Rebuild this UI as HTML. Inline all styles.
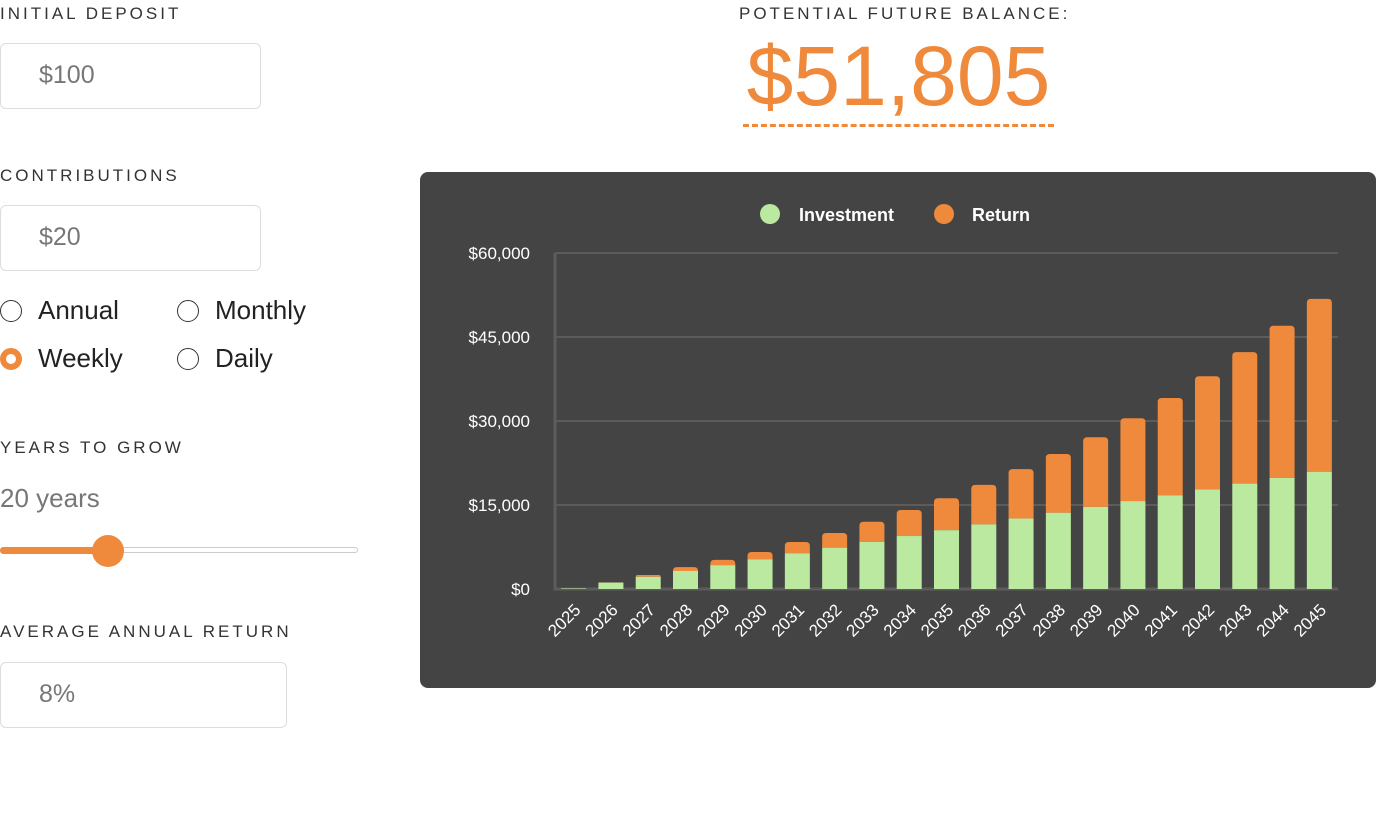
<!DOCTYPE html>
<html><head><meta charset="utf-8"><style>
body{margin:0;width:1376px;height:839px;background:#fff;font-family:"Liberation Sans",sans-serif;position:relative;overflow:hidden}
.lbl{position:absolute;left:0;font-size:17px;letter-spacing:3px;color:#333}
.inp{position:absolute;left:0;width:261px;height:66px;border:1px solid #ddd;border-radius:6px;box-sizing:border-box;font-size:25px;color:#777;padding:17px 0 0 38px}
.rad{position:absolute;font-size:26px;color:#222}
.rad i{position:absolute;left:-38px;top:5px;width:22px;height:22px;border:1.5px solid #333;border-radius:50%;box-sizing:border-box}
</style></head><body>
<div class="lbl" style="top:4px">INITIAL DEPOSIT</div>
<div class="inp" style="top:43px">$100</div>
<div class="lbl" style="top:166px">CONTRIBUTIONS</div>
<div class="inp" style="top:205px">$20</div>
<div class="rad" style="left:38px;top:295px"><i style="left:-38px"></i>Annual</div>
<div class="rad" style="left:215px;top:295px"><i style="left:-38px"></i>Monthly</div>
<div class="rad" style="left:38px;top:343px"><i style="left:-38px;border:6px solid #ef8a3c;background:#fff"></i>Weekly</div>
<div class="rad" style="left:215px;top:343px"><i style="left:-38px"></i>Daily</div>
<div class="lbl" style="top:438px">YEARS TO GROW</div>
<div style="position:absolute;left:0;top:483px;font-size:26px;color:#777">20 years</div>
<div style="position:absolute;left:0;top:547px;width:358px;height:6px;border:1px solid #ccc;border-radius:4px;box-sizing:border-box"></div>
<div style="position:absolute;left:0;top:547px;width:108px;height:7px;background:#ef8a3c;border-radius:4px"></div>
<div style="position:absolute;left:92px;top:535px;width:32px;height:32px;background:#ef8a3c;border-radius:50%"></div>
<div class="lbl" style="top:622px">AVERAGE ANNUAL RETURN</div>
<div class="inp" style="top:662px;width:287px">8%</div>
<div class="lbl" style="left:739px;top:4px">POTENTIAL FUTURE BALANCE:</div>
<div style="position:absolute;left:743px;top:28px;width:311px;font-size:84px;color:#ef8a3c;text-align:center;line-height:96px;border-bottom:3px dashed #ef8a3c">$51,805</div>
<svg id="chart" style="position:absolute;left:420px;top:172px" width="956" height="516"></svg>
<script>
const years=[2025,2026,2027,2028,2029,2030,2031,2032,2033,2034,2035,2036,2037,2038,2039,2040,2041,2042,2043,2044,2045];
const investment=[100,1140,2180,3220,4260,5300,6340,7380,8420,9460,10500,11540,12580,13620,14660,15700,16740,17780,18820,19860,20900];
const totals=[100,1180,2500,3900,5200,6600,8400,10000,12000,14100,16200,18600,21400,24100,27100,30500,34100,38000,42300,47000,51805];
const yTicks=[0,15000,30000,45000,60000];
const NS='http://www.w3.org/2000/svg';
const svg=document.getElementById('chart');
function mk(t,a,p){const e=document.createElementNS(NS,t);for(const k in a)e.setAttribute(k,a[k]);(p||svg).appendChild(e);return e;}
const X0=135,X1=918,Y0=417,Y1=81;
const band=(X1-X0)/years.length;
const y=v=>Y0-(v/60000)*(Y0-Y1);
const xc=i=>X0+band*(i+0.5);
const bg=mk('rect',{x:0,y:0,width:956,height:516,rx:8,fill:'#444'});


yTicks.forEach(t=>{
 const g=mk('line',{x1:X0,x2:X1,y1:y(t),y2:y(t),stroke:'#5c5c5c','stroke-width':2});
 
 
 const tx=mk('text',{x:110,y:y(t)+6,'text-anchor':'end',fill:'#fff','font-size':17,'font-family':'Liberation Sans'});
 tx.textContent='$'+t.toLocaleString('en-US');
 
 
});
const ax=mk('path',{d:`M${X0} ${Y1}V${Y0}H${X1}`,stroke:'#5c5c5c','stroke-width':3,fill:'none'});


function bar(x,yt,h,w,fill,name){
 if(h<=0)return;
 const r=Math.min(4,h);
 const d=`M${x} ${yt+h}V${yt+r}Q${x} ${yt} ${x+r} ${yt}H${x+w-r}Q${x+w} ${yt} ${x+w} ${yt+r}V${yt+h}Z`;
 const p=mk('path',{d:d,fill:fill});
 
 
}
const bw=25;
years.forEach((yr,i)=>{
 const cx=xc(i);
 bar(cx-bw/2,y(totals[i]),y(investment[i])-y(totals[i]),bw,'#ef8a3c','return-bar-'+yr);
 const inv=mk('rect',{x:cx-bw/2,y:y(investment[i]),width:bw,height:Y0-y(investment[i]),fill:'#bce9a0'});
 
 
 const t=mk('text',{x:cx+8,y:Y0+22,'text-anchor':'end',fill:'#fff','font-size':17,'font-family':'Liberation Sans',transform:`rotate(-45 ${cx+8} ${Y0+22})`});
 t.textContent=yr;
 
 
});
[['Investment','#bce9a0',350,379],['Return','#ef8a3c',524,552]].forEach(l=>{
 const c=mk('circle',{cx:l[2],cy:42,r:10,fill:l[1]});
 
 
 const t=mk('text',{x:l[3],y:49,fill:'#fff','font-size':18,'font-weight':'bold','font-family':'Liberation Sans'});
 t.textContent=l[0];
 
 
});
</script>
</body></html>
